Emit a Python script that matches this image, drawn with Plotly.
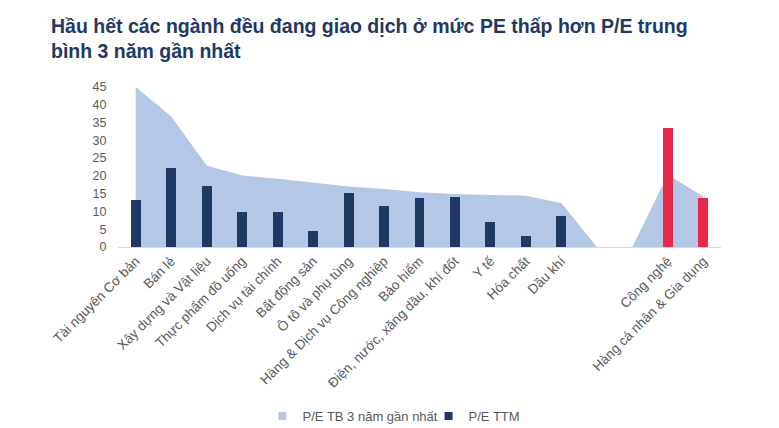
import plotly.graph_objects as go

categories = ["Tài nguyên Cơ bản", "Bán lẻ", "Xây dựng và Vật liệu", "Thực phẩm đồ uống",
              "Dịch vụ tài chính", "Bất động sản", "Ô tô và phụ tùng", "Hàng & Dịch vụ Công nghiệp",
              "Bảo hiểm", "Điện, nước, xăng dầu, khí đốt", "Y tế", "Hóa chất", "Dầu khí",
              "", "", "Công nghệ", "Hàng cá nhân & Gia dụng"]
pe_avg3y = [45.0, 36.7, 22.9, 20.1, 19.2, 18.0, 17.0, 16.3, 15.4, 14.9, 14.7, 14.4, 12.4,
            0, 0, 20.3, 14.2]
pe_ttm = [13.3, 22.3, 17.1, 9.8, 9.8, 4.6, 15.2, 11.4, 13.7, 14.1, 6.9, 3.2, 8.7,
          None, None, 33.4, 13.8]
bar_colors = ["#1F3864"] * 15 + ["#E8294A", "#E8294A"]
y_ticks = [0, 5, 10, 15, 20, 25, 30, 35, 40, 45]

AREA = "#B4C7E7"
NAVY = "#1F3864"
GRAY = "#595959"

x = list(range(len(categories)))
xr = [-0.5, len(categories) - 0.5]
yr = [0, 45]

fig = go.Figure()
fig.add_trace(go.Scatter(x=x, y=pe_avg3y, mode="lines", fill="tozeroy",
                         line=dict(width=0, color=AREA), fillcolor=AREA,
                         showlegend=False, hoverinfo="skip", xaxis="x", yaxis="y"))
fig.add_trace(go.Bar(x=x, y=pe_ttm, marker=dict(color=bar_colors, line=dict(width=0)),
                     width=0.28, showlegend=False, xaxis="x2", yaxis="y2"))
# legend entries
fig.add_trace(go.Scatter(x=[None], y=[None], mode="markers", name="P/E TB 3 năm gần nhất",
                         marker=dict(symbol="square", size=8, color=AREA)))
fig.add_trace(go.Scatter(x=[None], y=[None], mode="markers", name="P/E TTM",
                         marker=dict(symbol="square", size=8, color=NAVY)))

fig.update_layout(
    width=779, height=428,
    margin=dict(l=118, r=58, t=87, b=181, autoexpand=False),
    paper_bgcolor="white", plot_bgcolor="white",
    font=dict(family="Liberation Sans, Arial, sans-serif", color=GRAY, size=12),
    title=dict(text="Hầu hết các ngành đều đang giao dịch ở mức PE thấp hơn P/E trung<br>bình 3 năm gần nhất",
               x=51 / 779, xanchor="left", xref="container", y=1 - 33 / 428, yanchor="top",
               font=dict(family="Liberation Sans, Arial, sans-serif", size=19.5, color=NAVY,
                         weight="bold")),
    showlegend=True,
    legend=dict(orientation="h", x=0.515, xanchor="center", y=-1.057, yanchor="middle",
                font=dict(size=13, color=GRAY), itemwidth=30, tracegroupgap=0,
                entrywidth=121, entrywidthmode="pixels",
                bgcolor="rgba(0,0,0,0)"),
    bargap=0,
    xaxis=dict(range=xr, tickmode="array", tickvals=x, ticktext=categories, tickangle=-45,
               showgrid=False, zeroline=False, showline=True, linecolor="#D9D9D9",
               linewidth=1, ticks="", tickfont=dict(size=13.5, color=GRAY)),
    yaxis=dict(range=yr, tickmode="array", tickvals=y_ticks, showgrid=False,
               zeroline=False, showline=False, ticks="outside", ticklen=8,
               tickcolor="rgba(0,0,0,0)", tickfont=dict(size=12.5, color=GRAY)),
    xaxis2=dict(range=xr, overlaying="x", visible=False),
    yaxis2=dict(range=yr, overlaying="y", visible=False),
)

fig.write_html("out.html")
